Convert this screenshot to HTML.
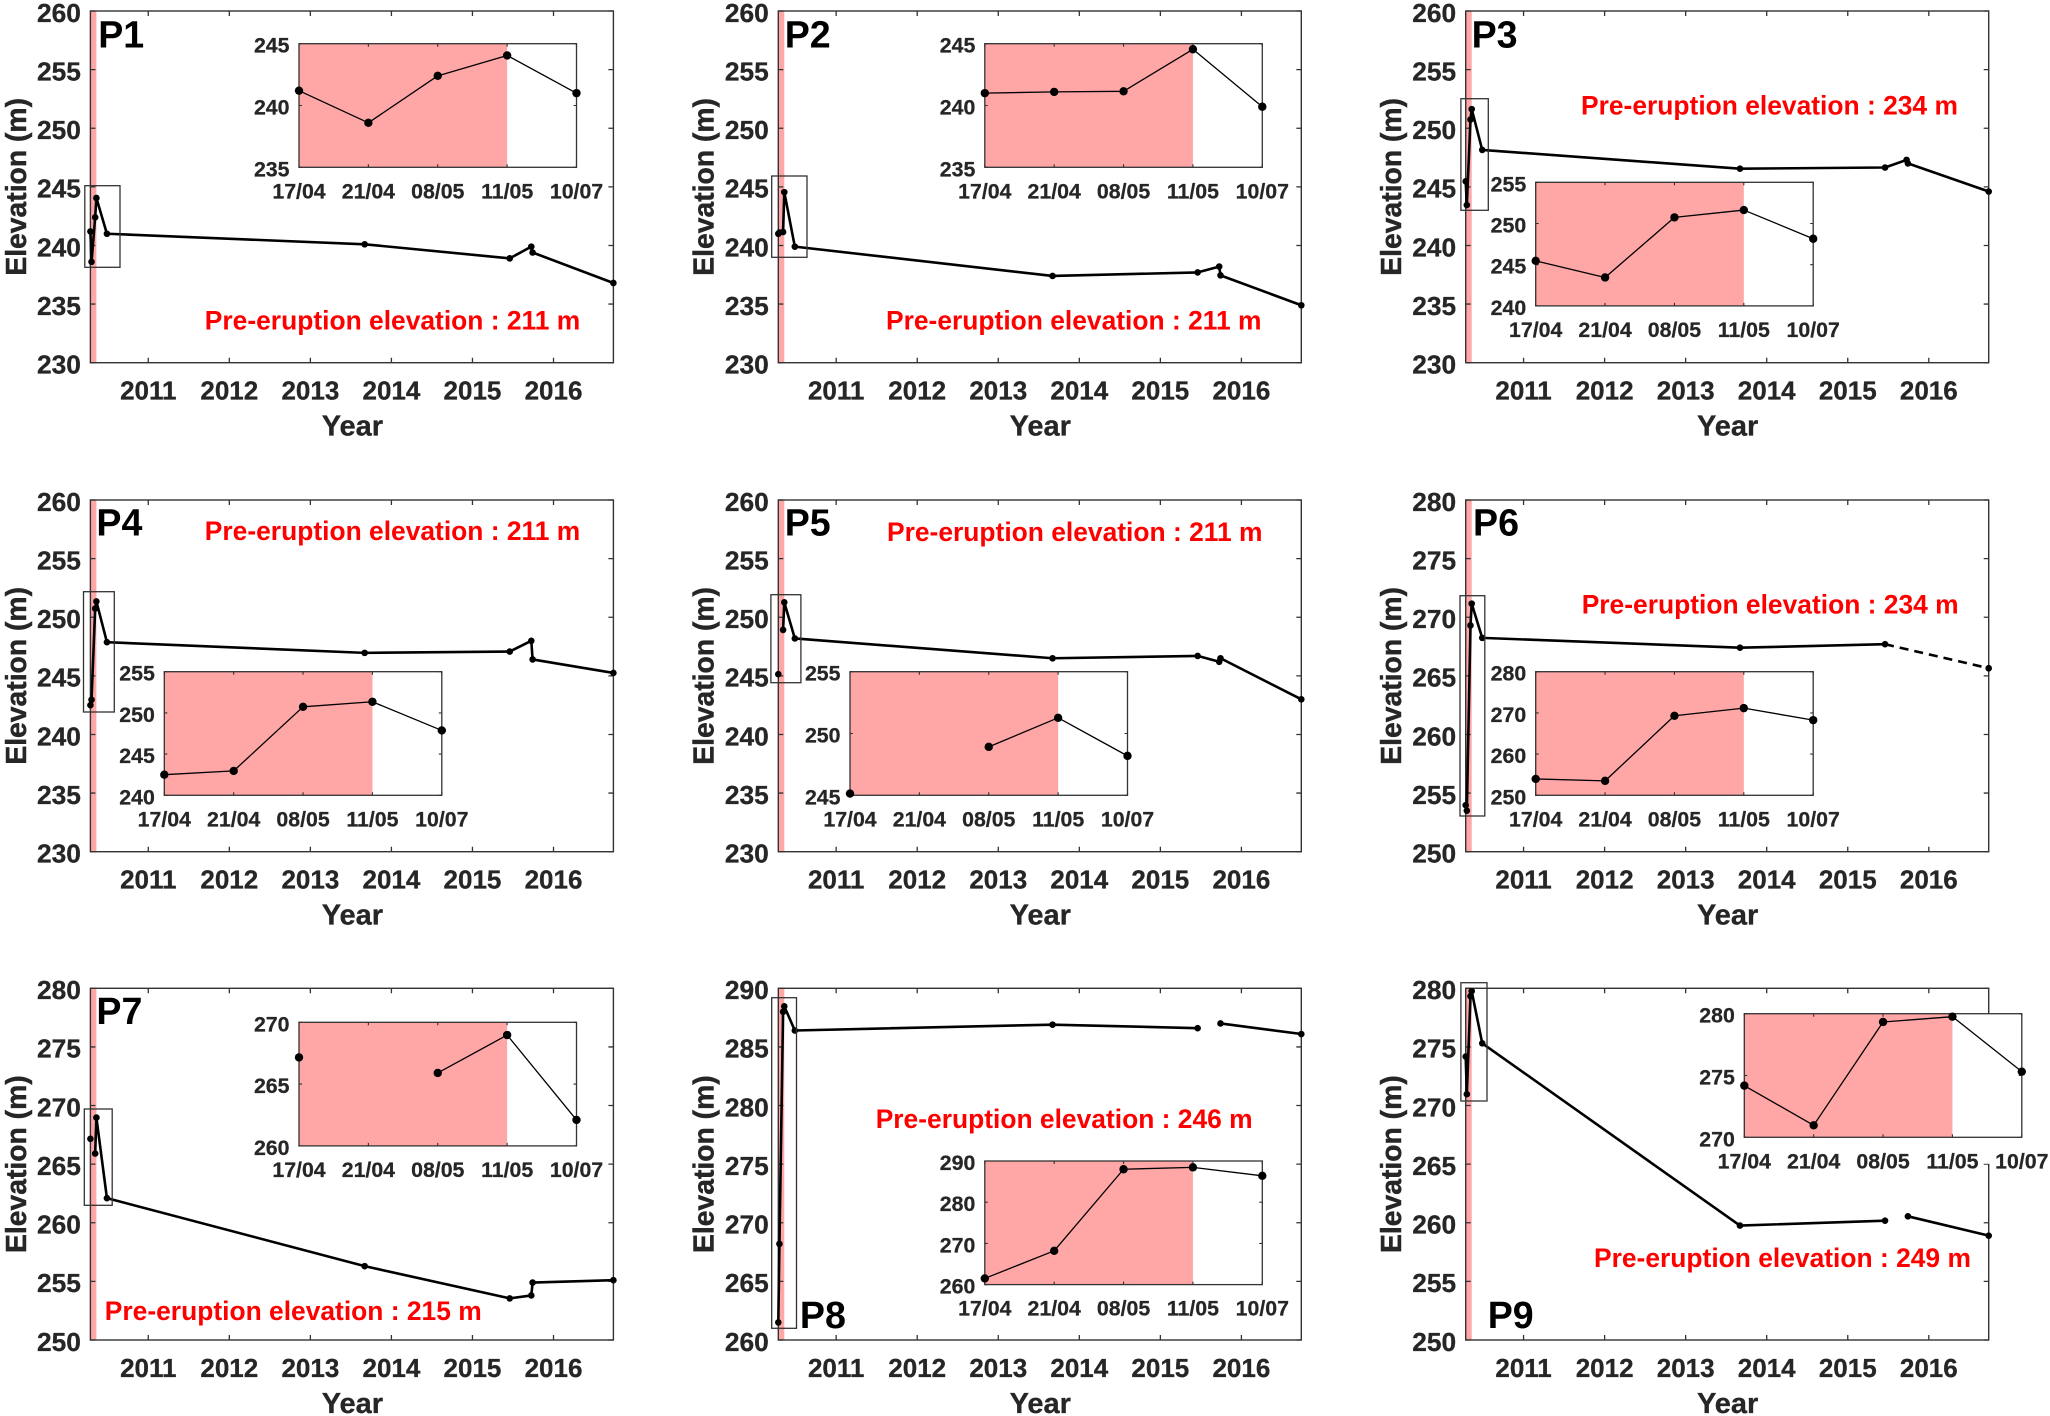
<!DOCTYPE html>
<html lang="en">
<head>
<meta charset="utf-8">
<title>Elevation profiles P1 to P9</title>
<style>
html,body{margin:0;padding:0;background:#fff;width:2050px;height:1416px;overflow:hidden}
svg{display:block}
text{font-family:"Liberation Sans",Arial,sans-serif;font-weight:bold}
</style>
</head>
<body>
<svg id="chart" width="2050" height="1416" viewBox="0 0 2050 1416" xmlns="http://www.w3.org/2000/svg"></svg>
<script>
// ---------- Data ----------
const sampleYears = [2010.286, 2010.30, 2010.345, 2010.36, 2010.49, 2013.67, 2015.46, 2015.726, 2015.742, 2016.739];
const xTickYears = [2011, 2012, 2013, 2014, 2015, 2016];
const insetDateLabels = ['17/04', '21/04', '08/05', '11/05', '10/07'];
const panelNames = ['P1', 'P2', 'P3', 'P4', 'P5', 'P6', 'P7', 'P8', 'P9'];
const preEruptionElevations = [211, 211, 234, 211, 211, 234, 215, 246, 249];

const p1Elevation = [241.2, 238.6, 242.4, 244.05, 241.0, 240.1, 238.9, 239.9, 239.4, 236.8];
const p2Elevation = [241.0, 241.1, 241.15, 244.55, 239.9, 237.4, 237.7, 238.2, 237.45, 234.9];
const p3Elevation = [245.47, 243.45, 250.74, 251.63, 248.15, 246.55, 246.65, 247.3, 247.0, 244.6];
const p4Elevation = [242.5, 242.96, 250.74, 251.35, 247.87, 246.96, 247.07, 247.99, 246.4, 245.25];
const p5Elevation = [245.14, null, 248.92, 251.27, 248.19, 246.5, 246.7, 246.2, 246.5, 243.0];
const p6Elevation = [253.97, 253.5, 269.3, 271.16, 268.24, 267.4, 267.7, null, null, 265.65];
const p7Elevation = [267.16, null, 265.9, 268.97, 262.1, 256.3, 253.55, 253.8, 254.9, 255.1];
const p8Elevation = [261.5, 268.2, 288.0, 288.46, 286.4, 286.9, 286.6, null, 287.0, 286.1];
const p9Elevation = [274.18, 270.97, 279.33, 279.76, 275.31, 259.76, 260.18, null, 260.55, 258.9];

const ticks230to260 = [230, 235, 240, 245, 250, 255, 260];
const ticks250to280 = [250, 255, 260, 265, 270, 275, 280];
const ticks260to290 = [260, 265, 270, 275, 280, 285, 290];
const insetTicks235to245 = [235, 240, 245];
const insetTicks240to255 = [240, 245, 250, 255];
const insetTicks245to255 = [245, 250, 255];
const insetTicks250to280 = [250, 260, 270, 280];
const insetTicks260to270 = [260, 265, 270];
const insetTicks260to290 = [260, 270, 280, 290];
const insetTicks270to280 = [270, 275, 280];

// Sampling window highlighted in pink: first sample through the 11/05 sample.
const eruptionStartYear = 2010.286;
const eruptionEndYear = 2010.36;
const xAxisMinYear = 2010.286;
const xAxisMaxYear = 2016.739;

const series = [p1Elevation, p2Elevation, p3Elevation, p4Elevation, p5Elevation, p6Elevation, p7Elevation, p8Elevation, p9Elevation];
const mainTicks = [ticks230to260, ticks230to260, ticks230to260, ticks230to260, ticks230to260, ticks250to280, ticks250to280, ticks260to290, ticks250to280];
const insetTicks = [insetTicks235to245, insetTicks235to245, insetTicks240to255, insetTicks240to255, insetTicks245to255, insetTicks250to280, insetTicks260to270, insetTicks260to290, insetTicks270to280];
const dashedGapPanels = ['P6'];

// ---------- Layout (pixels), separate from the data ----------
const AXIS_W = 523, AXIS_H = 351.7, INSET_W = 277.5, INSET_H = 123.6;
const layout = [
  {ax:90.4,  ay:11,     ix:299,    iy:43.7,   box:[84.8,185.7,120,267.3],     note:[204.8,329.5], tag:[98.2,47.5]},
  {ax:778.3, ay:11,     ix:984.8,  iy:43.7,   box:[771.7,176,807,257.3],      note:[886,329.5],   tag:[784.7,47.5]},
  {ax:1465.7,ay:11,     ix:1535.7, iy:182.3,  box:[1460.9,98.7,1488.3,210.3], note:[1581,114.5],  tag:[1471.6,47.5]},
  {ax:90.4,  ay:500,    ix:164.3,  iy:671.7,  box:[83.5,591.7,114.3,712],     note:[204.8,539.8], tag:[96.4,535.5]},
  {ax:778.3, ay:500,    ix:850,    iy:671.7,  box:[770.9,594.7,800.9,682.7],  note:[887,540.8],   tag:[784.7,535.5]},
  {ax:1465.7,ay:500,    ix:1535.7, iy:671.7,  box:[1460,595.7,1484.8,816],    note:[1581.7,613.5],tag:[1473,535.5]},
  {ax:90.4,  ay:988.3,  ix:299,    iy:1022.3, box:[84.3,1109,112.2,1205.3],   note:[104.8,1320.2],tag:[96.4,1023.8]},
  {ax:778.3, ay:988.3,  ix:984.8,  iy:1161,   box:[771.7,997.7,796.5,1328.3], note:[875.7,1127.8],tag:[799.9,1327.8]},
  {ax:1465.7,ay:988.3,  ix:1744.3, iy:1013.7, box:[1460.9,982.7,1487,1101],   note:[1594,1266.8], tag:[1487.7,1327.8]}
];
const AXIS_COLOR = '#333333', TEXT_COLOR = '#262626', PINK = '#ffa6a6';

const svgRoot = document.getElementById('chart');
function make(tag, parent, attrs, text) {
  const node = document.createElementNS('http://www.w3.org/2000/svg', tag);
  for (const key in attrs) node.setAttribute(key, attrs[key]);
  if (text !== undefined) node.textContent = text;
  parent.appendChild(node);
  return node;
}
function linearScale(d0, d1, r0, r1) {
  return function (v) { return r0 + (v - d0) / (d1 - d0) * (r1 - r0); };
}
function drawPolylineRuns(parent, points, width, nameBase) {
  let run = [];
  const flush = function () {
    if (run.length > 1) {
      const line = make('polyline', parent, {points: run.join(' '), fill: 'none', stroke: '#000', 'stroke-width': width, 'stroke-linejoin': 'round'});
      
      
    }
    run = [];
  };
  points.forEach(function (p) {
    if (p === null) { flush(); } else { run.push(p[0].toFixed(2) + ',' + p[1].toFixed(2)); }
  });
  flush();
}

panelNames.forEach(function (name, idx) {
  const L = layout[idx];
  const values = series[idx];
  const yTicks = mainTicks[idx];
  const key = name.toLowerCase();
  const x = linearScale(xAxisMinYear, xAxisMaxYear, L.ax, L.ax + AXIS_W);
  const y = linearScale(yTicks[0], yTicks[yTicks.length - 1], L.ay + AXIS_H, L.ay);

  const panel = make('g', svgRoot, {});
  
  

  const band = make('rect', panel, {x: x(eruptionStartYear), y: L.ay, width: x(eruptionEndYear) - x(eruptionStartYear), height: AXIS_H, fill: PINK});
  
  

  const frame = make('rect', panel, {x: L.ax, y: L.ay, width: AXIS_W, height: AXIS_H, fill: 'none', stroke: AXIS_COLOR, 'stroke-width': 1.4});
  
  

  xTickYears.forEach(function (year) {
    const tx = x(year);
    make('path', panel, {d: 'M' + tx + ' ' + (L.ay + AXIS_H) + 'v-5M' + tx + ' ' + L.ay + 'v5', stroke: AXIS_COLOR, 'stroke-width': 1.3, fill: 'none'});
    const label = make('text', panel, {x: tx, y: L.ay + AXIS_H + 37, 'text-anchor': 'middle', 'font-size': 26, fill: TEXT_COLOR, stroke: TEXT_COLOR, 'stroke-width': 0.3}, String(year));
    
    
  });
  yTicks.forEach(function (val) {
    const ty = y(val);
    make('path', panel, {d: 'M' + L.ax + ' ' + ty + 'h5M' + (L.ax + AXIS_W) + ' ' + ty + 'h-5', stroke: AXIS_COLOR, 'stroke-width': 1.3, fill: 'none'});
    const label = make('text', panel, {x: L.ax - 9.5, y: ty + 10.8, 'text-anchor': 'end', 'font-size': 26.3, fill: TEXT_COLOR, stroke: TEXT_COLOR, 'stroke-width': 0.3}, String(val));
    
    
  });

  const xTitle = make('text', panel, {x: L.ax + 262, y: L.ay + AXIS_H + 73, 'text-anchor': 'middle', 'font-size': 29, fill: TEXT_COLOR, stroke: TEXT_COLOR, 'stroke-width': 0.3}, 'Year');
  
  

  const yTitleY = L.ay + AXIS_H / 2;
  const yTitleX = L.ax - 64.6;
  const yTitle = make('text', panel, {x: yTitleX, y: yTitleY, 'text-anchor': 'middle', 'font-size': 28.3, fill: TEXT_COLOR, stroke: TEXT_COLOR, 'stroke-width': 0.45, transform: 'rotate(-90 ' + yTitleX + ' ' + yTitleY + ')'}, 'Elevation (m)');
  
  

  // Main series
  const mainPoints = values.map(function (v, i) { return v === null ? null : [x(sampleYears[i]), y(v)]; });
  drawPolylineRuns(panel, mainPoints, 2.6, key + '-series');
  if (dashedGapPanels.indexOf(name) >= 0) {
    const known = mainPoints.filter(function (p) { return p !== null; });
    const from = known[known.length - 2], to = known[known.length - 1];
    const dash = make('line', panel, {x1: from[0], y1: from[1], x2: to[0], y2: to[1], stroke: '#000', 'stroke-width': 2.6, 'stroke-dasharray': '9 6'});
    
    
  }
  mainPoints.forEach(function (p) {
    if (p === null) return;
    const dot = make('circle', panel, {cx: p[0], cy: p[1], r: 3.3, fill: '#000'});
    
    
  });

  // Zoom box
  const b = L.box;
  const zoomBox = make('rect', panel, {x: b[0], y: b[1], width: b[2] - b[0], height: b[3] - b[1], fill: 'none', stroke: AXIS_COLOR, 'stroke-width': 1.3});
  
  

  // Inset
  const inset = make('g', panel, {});
  
  
  const iTicks = insetTicks[idx];
  const ix = linearScale(0, insetDateLabels.length - 1, L.ix, L.ix + INSET_W);
  const iy = linearScale(iTicks[0], iTicks[iTicks.length - 1], L.iy + INSET_H, L.iy);

  const insetBg = make('rect', inset, {x: L.ix, y: L.iy, width: INSET_W, height: INSET_H + 26.5, fill: '#fff'});
  
  
  const insetBand = make('rect', inset, {x: ix(0), y: L.iy, width: ix(3) - ix(0), height: INSET_H, fill: PINK});
  
  
  const insetFrame = make('rect', inset, {x: L.ix, y: L.iy, width: INSET_W, height: INSET_H, fill: 'none', stroke: AXIS_COLOR, 'stroke-width': 1.3});
  
  

  insetDateLabels.forEach(function (label, i) {
    const tx = ix(i);
    make('path', inset, {d: 'M' + tx + ' ' + (L.iy + INSET_H) + 'v-3M' + tx + ' ' + L.iy + 'v3', stroke: AXIS_COLOR, 'stroke-width': 1.1, fill: 'none'});
    const t = make('text', inset, {x: tx, y: L.iy + INSET_H + 31, 'text-anchor': 'middle', 'font-size': 21.3, fill: TEXT_COLOR, stroke: TEXT_COLOR, 'stroke-width': 0.25}, label);
    
    
  });
  iTicks.forEach(function (val) {
    const ty = iy(val);
    make('path', inset, {d: 'M' + L.ix + ' ' + ty + 'h3M' + (L.ix + INSET_W) + ' ' + ty + 'h-3', stroke: AXIS_COLOR, 'stroke-width': 1.1, fill: 'none'});
    const t = make('text', inset, {x: L.ix - 9.5, y: ty + 9, 'text-anchor': 'end', 'font-size': 21.3, fill: TEXT_COLOR, stroke: TEXT_COLOR, 'stroke-width': 0.25}, String(val));
    
    
  });

  const insetPoints = values.slice(0, insetDateLabels.length).map(function (v, i) { return v === null ? null : [ix(i), iy(v)]; });
  drawPolylineRuns(inset, insetPoints, 1.3, key + '-inset-series');
  insetPoints.forEach(function (p) {
    if (p === null) return;
    const dot = make('circle', inset, {cx: p[0], cy: p[1], r: 4.2, fill: '#000'});
    
    
  });

  // Annotations
  const note = make('text', panel, {x: L.note[0], y: L.note[1], 'font-size': 26.4, fill: '#ff0000'}, 'Pre-eruption elevation : ' + preEruptionElevations[idx] + ' m');
  
  
  const tag = make('text', panel, {x: L.tag[0], y: L.tag[1], 'font-size': 37.6, fill: '#000'}, name);
  
  
});
</script>
</body>
</html>
